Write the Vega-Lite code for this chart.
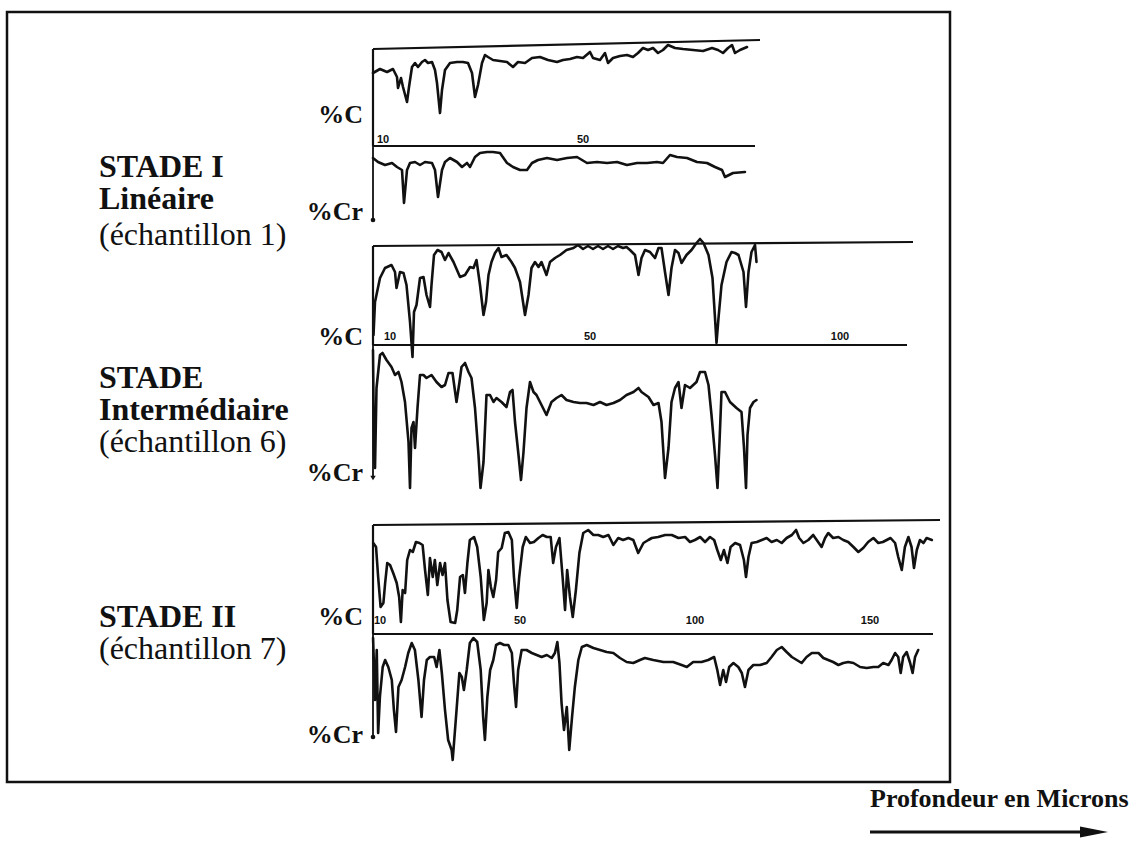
{
"$schema": "https://vega.github.io/schema/vega-lite/v6.json",
"width": 1135, "height": 845,
"autosize": {"type": "fit", "contains": "padding"},
"padding": 0,
"background": "#ffffff",
"config": {"view": {"stroke": null}},
"datasets": {
"s1c": [{"depth":8.0,"value":73},{"depth":9.4,"value":77},{"depth":10.8,"value":74},{"depth":12.0,"value":77},{"depth":12.8,"value":69},{"depth":13.0,"value":58},{"depth":13.6,"value":68},{"depth":14.0,"value":59},{"depth":14.8,"value":44},{"depth":15.2,"value":59},{"depth":15.8,"value":79},{"depth":16.4,"value":83},{"depth":17.0,"value":79},{"depth":17.8,"value":84},{"depth":18.4,"value":86},{"depth":19.0,"value":83},{"depth":19.8,"value":84},{"depth":20.4,"value":76},{"depth":20.8,"value":63},{"depth":21.4,"value":33},{"depth":21.8,"value":56},{"depth":22.4,"value":76},{"depth":23.4,"value":83},{"depth":24.8,"value":84},{"depth":26.0,"value":84},{"depth":27.0,"value":83},{"depth":27.8,"value":73},{"depth":28.4,"value":49},{"depth":29.0,"value":61},{"depth":29.8,"value":83},{"depth":30.4,"value":91},{"depth":31.0,"value":89},{"depth":32.0,"value":86},{"depth":33.4,"value":85},{"depth":34.8,"value":84},{"depth":36.0,"value":79},{"depth":37.0,"value":84},{"depth":38.4,"value":83},{"depth":39.8,"value":88},{"depth":41.4,"value":89},{"depth":43.0,"value":86},{"depth":44.8,"value":84},{"depth":46.0,"value":86},{"depth":47.4,"value":87},{"depth":48.8,"value":89},{"depth":50.0,"value":88},{"depth":51.4,"value":94},{"depth":52.0,"value":88},{"depth":53.4,"value":86},{"depth":54.4,"value":93},{"depth":55.0,"value":83},{"depth":56.0,"value":88},{"depth":57.4,"value":90},{"depth":58.8,"value":91},{"depth":60.0,"value":89},{"depth":61.0,"value":93},{"depth":62.0,"value":98},{"depth":63.0,"value":96},{"depth":64.0,"value":98},{"depth":65.0,"value":93},{"depth":66.0,"value":96},{"depth":67.0,"value":101},{"depth":68.4,"value":98},{"depth":70.0,"value":97},{"depth":72.0,"value":96},{"depth":74.0,"value":95},{"depth":75.8,"value":98},{"depth":77.0,"value":96},{"depth":78.0,"value":93},{"depth":79.0,"value":98},{"depth":79.8,"value":101},{"depth":80.4,"value":93},{"depth":81.4,"value":96},{"depth":82.8,"value":99}],
"s1cr": [{"depth":8.0,"value":62},{"depth":9.0,"value":58},{"depth":10.4,"value":55},{"depth":11.8,"value":57},{"depth":12.8,"value":53},{"depth":13.8,"value":50},{"depth":14.2,"value":17},{"depth":14.8,"value":50},{"depth":15.4,"value":57},{"depth":16.4,"value":58},{"depth":17.4,"value":55},{"depth":18.4,"value":58},{"depth":19.8,"value":57},{"depth":20.4,"value":50},{"depth":21.0,"value":23},{"depth":21.8,"value":50},{"depth":22.4,"value":58},{"depth":23.4,"value":62},{"depth":24.8,"value":58},{"depth":25.8,"value":53},{"depth":26.8,"value":57},{"depth":27.4,"value":53},{"depth":28.4,"value":63},{"depth":29.4,"value":67},{"depth":30.8,"value":68},{"depth":32.0,"value":68},{"depth":33.4,"value":67},{"depth":34.8,"value":57},{"depth":36.0,"value":53},{"depth":37.4,"value":50},{"depth":38.8,"value":50},{"depth":39.8,"value":57},{"depth":41.0,"value":60},{"depth":42.8,"value":62},{"depth":44.8,"value":60},{"depth":46.8,"value":62},{"depth":48.8,"value":63},{"depth":50.8,"value":57},{"depth":52.8,"value":58},{"depth":54.8,"value":57},{"depth":56.8,"value":58},{"depth":58.8,"value":55},{"depth":60.8,"value":57},{"depth":62.8,"value":57},{"depth":64.8,"value":58},{"depth":66.0,"value":57},{"depth":67.4,"value":65},{"depth":68.8,"value":63},{"depth":70.8,"value":62},{"depth":72.8,"value":58},{"depth":74.8,"value":57},{"depth":76.4,"value":53},{"depth":77.8,"value":50},{"depth":78.4,"value":43},{"depth":80.0,"value":47},{"depth":82.4,"value":48}],
"s2c": [{"depth":6.7,"value":10},{"depth":7.0,"value":43},{"depth":8.0,"value":67},{"depth":9.0,"value":77},{"depth":10.3,"value":80},{"depth":11.0,"value":73},{"depth":11.3,"value":57},{"depth":12.0,"value":73},{"depth":12.7,"value":72},{"depth":13.3,"value":60},{"depth":14.0,"value":23},{"depth":14.5,"value":-12},{"depth":14.8,"value":33},{"depth":15.3,"value":40},{"depth":16.0,"value":67},{"depth":16.7,"value":68},{"depth":17.3,"value":50},{"depth":18.0,"value":38},{"depth":18.3,"value":60},{"depth":18.8,"value":90},{"depth":19.5,"value":95},{"depth":20.3,"value":93},{"depth":21.0,"value":85},{"depth":21.7,"value":92},{"depth":22.7,"value":83},{"depth":24.0,"value":68},{"depth":25.0,"value":70},{"depth":26.0,"value":78},{"depth":26.7,"value":77},{"depth":27.3,"value":85},{"depth":28.0,"value":60},{"depth":28.7,"value":30},{"depth":29.2,"value":43},{"depth":29.7,"value":70},{"depth":30.3,"value":83},{"depth":31.0,"value":92},{"depth":31.7,"value":97},{"depth":32.3,"value":88},{"depth":33.3,"value":90},{"depth":34.3,"value":83},{"depth":35.0,"value":77},{"depth":36.0,"value":63},{"depth":37.0,"value":30},{"depth":37.7,"value":50},{"depth":38.3,"value":77},{"depth":39.0,"value":83},{"depth":39.7,"value":78},{"depth":40.3,"value":83},{"depth":41.3,"value":70},{"depth":42.0,"value":83},{"depth":43.0,"value":87},{"depth":44.0,"value":90},{"depth":45.3,"value":95},{"depth":46.7,"value":97},{"depth":47.6,"value":100},{"depth":48.6,"value":96},{"depth":49.6,"value":99},{"depth":50.6,"value":96},{"depth":51.6,"value":99},{"depth":52.6,"value":96},{"depth":53.6,"value":99},{"depth":54.6,"value":96},{"depth":55.6,"value":99},{"depth":56.6,"value":97},{"depth":57.3,"value":98},{"depth":58.0,"value":95},{"depth":59.0,"value":90},{"depth":59.7,"value":70},{"depth":60.3,"value":87},{"depth":61.0,"value":95},{"depth":62.0,"value":93},{"depth":63.0,"value":87},{"depth":63.7,"value":97},{"depth":64.3,"value":97},{"depth":65.0,"value":73},{"depth":65.7,"value":50},{"depth":66.3,"value":77},{"depth":67.0,"value":95},{"depth":67.7,"value":92},{"depth":68.3,"value":82},{"depth":69.3,"value":90},{"depth":70.3,"value":95},{"depth":71.3,"value":102},{"depth":72.0,"value":106},{"depth":72.7,"value":102},{"depth":73.7,"value":90},{"depth":74.5,"value":67},{"depth":75.0,"value":27},{"depth":75.3,"value":2},{"depth":75.7,"value":27},{"depth":76.3,"value":60},{"depth":77.3,"value":83},{"depth":78.3,"value":93},{"depth":79.0,"value":92},{"depth":79.7,"value":90},{"depth":80.7,"value":73},{"depth":81.2,"value":38},{"depth":81.7,"value":73},{"depth":82.3,"value":93},{"depth":83.0,"value":100},{"depth":83.3,"value":83}],
"s2cr": [{"depth":6.6,"value":130},{"depth":6.8,"value":25},{"depth":7.0,"value":12},{"depth":7.3,"value":92},{"depth":8.0,"value":125},{"depth":8.5,"value":127},{"depth":9.3,"value":120},{"depth":10.3,"value":113},{"depth":11.0,"value":105},{"depth":11.7,"value":108},{"depth":12.3,"value":98},{"depth":13.0,"value":78},{"depth":13.7,"value":38},{"depth":14.0,"value":-8},{"depth":14.3,"value":52},{"depth":14.7,"value":58},{"depth":15.0,"value":32},{"depth":15.5,"value":72},{"depth":16.0,"value":105},{"depth":16.7,"value":105},{"depth":17.3,"value":102},{"depth":18.3,"value":105},{"depth":19.3,"value":98},{"depth":20.3,"value":93},{"depth":21.0,"value":95},{"depth":21.7,"value":107},{"depth":22.5,"value":107},{"depth":23.3,"value":78},{"depth":23.9,"value":98},{"depth":24.3,"value":113},{"depth":25.0,"value":117},{"depth":25.7,"value":108},{"depth":26.3,"value":102},{"depth":27.0,"value":72},{"depth":27.7,"value":25},{"depth":28.1,"value":-8},{"depth":28.7,"value":18},{"depth":29.3,"value":85},{"depth":30.0,"value":85},{"depth":30.7,"value":78},{"depth":31.3,"value":82},{"depth":32.3,"value":78},{"depth":33.3,"value":73},{"depth":34.0,"value":88},{"depth":34.5,"value":90},{"depth":35.0,"value":58},{"depth":35.7,"value":25},{"depth":36.2,"value":0},{"depth":36.7,"value":28},{"depth":37.3,"value":72},{"depth":38.0,"value":98},{"depth":38.7,"value":88},{"depth":39.3,"value":85},{"depth":40.3,"value":75},{"depth":41.3,"value":65},{"depth":42.3,"value":78},{"depth":43.3,"value":82},{"depth":44.3,"value":85},{"depth":45.3,"value":80},{"depth":46.7,"value":78},{"depth":48.0,"value":77},{"depth":49.3,"value":77},{"depth":50.7,"value":75},{"depth":52.0,"value":78},{"depth":53.3,"value":75},{"depth":54.7,"value":77},{"depth":56.0,"value":80},{"depth":57.3,"value":85},{"depth":58.7,"value":88},{"depth":59.7,"value":92},{"depth":60.3,"value":88},{"depth":61.7,"value":83},{"depth":62.7,"value":75},{"depth":63.7,"value":77},{"depth":64.3,"value":58},{"depth":65.0,"value":2},{"depth":65.7,"value":32},{"depth":66.3,"value":78},{"depth":67.0,"value":92},{"depth":67.7,"value":98},{"depth":68.3,"value":72},{"depth":69.0,"value":95},{"depth":70.0,"value":92},{"depth":71.3,"value":98},{"depth":72.0,"value":108},{"depth":73.0,"value":108},{"depth":73.7,"value":95},{"depth":74.3,"value":65},{"depth":75.0,"value":25},{"depth":75.5,"value":-8},{"depth":75.9,"value":38},{"depth":76.3,"value":88},{"depth":77.0,"value":88},{"depth":78.0,"value":78},{"depth":79.3,"value":72},{"depth":80.3,"value":68},{"depth":80.8,"value":32},{"depth":81.2,"value":-8},{"depth":81.5,"value":45},{"depth":82.0,"value":72},{"depth":82.7,"value":78},{"depth":83.3,"value":80}],
"s3c": [{"depth":9.5,"value":91},{"depth":10.3,"value":87},{"depth":10.9,"value":57},{"depth":11.6,"value":27},{"depth":12.4,"value":31},{"depth":12.9,"value":51},{"depth":13.5,"value":71},{"depth":14.3,"value":69},{"depth":15.2,"value":61},{"depth":16.2,"value":51},{"depth":16.9,"value":37},{"depth":17.4,"value":12},{"depth":17.9,"value":44},{"depth":18.6,"value":41},{"depth":19.2,"value":74},{"depth":20.0,"value":84},{"depth":20.8,"value":82},{"depth":21.7,"value":92},{"depth":22.7,"value":91},{"depth":23.6,"value":89},{"depth":24.3,"value":64},{"depth":25.1,"value":39},{"depth":25.7,"value":76},{"depth":26.5,"value":57},{"depth":27.1,"value":74},{"depth":27.8,"value":49},{"depth":28.6,"value":71},{"depth":29.3,"value":59},{"depth":30.0,"value":71},{"depth":30.7,"value":34},{"depth":31.6,"value":12},{"depth":32.9,"value":11},{"depth":33.5,"value":24},{"depth":34.3,"value":57},{"depth":35.1,"value":59},{"depth":35.7,"value":41},{"depth":36.4,"value":71},{"depth":37.1,"value":94},{"depth":38.3,"value":97},{"depth":39.2,"value":87},{"depth":40.2,"value":57},{"depth":41.1,"value":14},{"depth":41.9,"value":31},{"depth":42.4,"value":64},{"depth":43.1,"value":47},{"depth":43.8,"value":37},{"depth":44.6,"value":54},{"depth":45.2,"value":82},{"depth":46.2,"value":86},{"depth":47.1,"value":101},{"depth":48.1,"value":102},{"depth":49.1,"value":94},{"depth":49.7,"value":57},{"depth":50.5,"value":26},{"depth":51.2,"value":57},{"depth":52.2,"value":87},{"depth":53.1,"value":97},{"depth":54.3,"value":91},{"depth":55.4,"value":92},{"depth":56.7,"value":96},{"depth":57.9,"value":99},{"depth":59.1,"value":97},{"depth":60.2,"value":97},{"depth":60.9,"value":71},{"depth":61.7,"value":87},{"depth":62.7,"value":96},{"depth":63.6,"value":57},{"depth":64.3,"value":24},{"depth":64.9,"value":64},{"depth":65.7,"value":37},{"depth":66.5,"value":17},{"depth":67.4,"value":44},{"depth":68.4,"value":81},{"depth":69.5,"value":101},{"depth":70.9,"value":104},{"depth":72.4,"value":99},{"depth":73.8,"value":99},{"depth":75.2,"value":97},{"depth":76.7,"value":99},{"depth":78.1,"value":89},{"depth":79.5,"value":96},{"depth":80.9,"value":94},{"depth":82.4,"value":96},{"depth":83.8,"value":94},{"depth":85.2,"value":81},{"depth":86.7,"value":91},{"depth":88.1,"value":94},{"depth":89.1,"value":96},{"depth":90.9,"value":97},{"depth":92.9,"value":99},{"depth":94.8,"value":99},{"depth":96.7,"value":96},{"depth":98.6,"value":97},{"depth":100.0,"value":92},{"depth":101.4,"value":94},{"depth":102.9,"value":97},{"depth":104.3,"value":92},{"depth":105.7,"value":97},{"depth":106.9,"value":94},{"depth":107.8,"value":84},{"depth":108.8,"value":74},{"depth":109.7,"value":84},{"depth":110.7,"value":71},{"depth":111.6,"value":87},{"depth":112.9,"value":91},{"depth":114.3,"value":89},{"depth":115.4,"value":74},{"depth":116.0,"value":57},{"depth":116.7,"value":77},{"depth":117.6,"value":91},{"depth":119.1,"value":92},{"depth":120.5,"value":94},{"depth":121.9,"value":96},{"depth":123.3,"value":92},{"depth":124.8,"value":94},{"depth":126.2,"value":91},{"depth":127.6,"value":96},{"depth":129.1,"value":99},{"depth":130.3,"value":104},{"depth":131.2,"value":96},{"depth":132.4,"value":91},{"depth":133.8,"value":94},{"depth":135.2,"value":99},{"depth":136.2,"value":94},{"depth":137.6,"value":87},{"depth":138.6,"value":96},{"depth":139.5,"value":101},{"depth":140.9,"value":96},{"depth":142.4,"value":97},{"depth":143.8,"value":94},{"depth":145.2,"value":92},{"depth":146.7,"value":87},{"depth":148.1,"value":82},{"depth":149.5,"value":86},{"depth":150.9,"value":92},{"depth":152.4,"value":96},{"depth":153.8,"value":91},{"depth":155.1,"value":92},{"depth":156.2,"value":94},{"depth":157.3,"value":96},{"depth":158.6,"value":91},{"depth":159.5,"value":77},{"depth":160.5,"value":64},{"depth":161.4,"value":87},{"depth":162.4,"value":97},{"depth":163.3,"value":87},{"depth":164.0,"value":66},{"depth":164.8,"value":84},{"depth":165.7,"value":94},{"depth":166.7,"value":91},{"depth":167.6,"value":96},{"depth":169.1,"value":94}],
"s3cr": [{"depth":9.45,"value":100},{"depth":10.0,"value":38},{"depth":10.5,"value":88},{"depth":10.9,"value":5},{"depth":11.4,"value":41},{"depth":12.2,"value":71},{"depth":12.9,"value":78},{"depth":13.8,"value":71},{"depth":14.8,"value":58},{"depth":15.4,"value":28},{"depth":16.0,"value":6},{"depth":16.7,"value":51},{"depth":17.6,"value":58},{"depth":18.6,"value":71},{"depth":19.5,"value":85},{"depth":20.5,"value":95},{"depth":21.4,"value":88},{"depth":22.4,"value":58},{"depth":23.3,"value":21},{"depth":24.0,"value":58},{"depth":24.8,"value":78},{"depth":25.7,"value":81},{"depth":26.9,"value":81},{"depth":27.6,"value":71},{"depth":28.4,"value":88},{"depth":29.1,"value":65},{"depth":30.0,"value":28},{"depth":30.9,"value":-2},{"depth":31.9,"value":-12},{"depth":32.2,"value":-22},{"depth":33.3,"value":28},{"depth":34.1,"value":65},{"depth":34.8,"value":61},{"depth":35.4,"value":48},{"depth":36.2,"value":68},{"depth":37.1,"value":95},{"depth":38.1,"value":100},{"depth":39.2,"value":96},{"depth":40.2,"value":68},{"depth":40.9,"value":21},{"depth":41.4,"value":-2},{"depth":42.1,"value":41},{"depth":42.9,"value":68},{"depth":43.8,"value":78},{"depth":44.6,"value":93},{"depth":45.7,"value":95},{"depth":46.9,"value":93},{"depth":48.1,"value":93},{"depth":49.1,"value":85},{"depth":49.7,"value":55},{"depth":50.3,"value":31},{"depth":50.9,"value":68},{"depth":51.9,"value":88},{"depth":53.3,"value":88},{"depth":54.8,"value":85},{"depth":56.2,"value":83},{"depth":57.6,"value":81},{"depth":59.1,"value":83},{"depth":60.5,"value":80},{"depth":61.4,"value":85},{"depth":62.1,"value":96},{"depth":62.7,"value":75},{"depth":63.3,"value":35},{"depth":64.0,"value":8},{"depth":64.8,"value":31},{"depth":65.5,"value":-12},{"depth":66.3,"value":21},{"depth":67.1,"value":51},{"depth":68.1,"value":78},{"depth":69.1,"value":91},{"depth":70.5,"value":93},{"depth":72.4,"value":90},{"depth":74.3,"value":88},{"depth":76.2,"value":86},{"depth":78.1,"value":85},{"depth":80.0,"value":80},{"depth":81.9,"value":76},{"depth":83.8,"value":75},{"depth":85.7,"value":78},{"depth":87.1,"value":80},{"depth":89.5,"value":78},{"depth":92.4,"value":76},{"depth":95.2,"value":76},{"depth":97.6,"value":73},{"depth":99.1,"value":71},{"depth":100.9,"value":76},{"depth":103.3,"value":76},{"depth":105.2,"value":78},{"depth":106.9,"value":81},{"depth":107.8,"value":68},{"depth":108.6,"value":53},{"depth":109.5,"value":68},{"depth":110.3,"value":56},{"depth":111.2,"value":71},{"depth":112.4,"value":75},{"depth":113.8,"value":71},{"depth":114.8,"value":65},{"depth":115.7,"value":51},{"depth":116.7,"value":68},{"depth":118.1,"value":73},{"depth":120.0,"value":73},{"depth":121.9,"value":75},{"depth":123.3,"value":81},{"depth":124.8,"value":88},{"depth":126.2,"value":91},{"depth":127.6,"value":86},{"depth":129.1,"value":81},{"depth":130.5,"value":78},{"depth":131.9,"value":75},{"depth":133.3,"value":81},{"depth":134.8,"value":85},{"depth":136.7,"value":85},{"depth":138.1,"value":80},{"depth":139.5,"value":78},{"depth":140.9,"value":76},{"depth":142.4,"value":73},{"depth":143.8,"value":75},{"depth":145.2,"value":76},{"depth":146.7,"value":75},{"depth":148.6,"value":71},{"depth":150.5,"value":70},{"depth":152.4,"value":71},{"depth":153.8,"value":71},{"depth":155.2,"value":75},{"depth":156.7,"value":73},{"depth":157.6,"value":78},{"depth":158.6,"value":85},{"depth":159.5,"value":81},{"depth":160.2,"value":65},{"depth":160.9,"value":81},{"depth":161.9,"value":86},{"depth":162.9,"value":75},{"depth":163.6,"value":65},{"depth":164.3,"value":81},{"depth":165.2,"value":88}]
},
"resolve": {"scale": {"x": "independent", "y": "independent"}},
"layer": [
 {
  "layer": [
   {"data": {"values": [{"fx": 7, "fx2": 950, "fy": 12, "fy2": 782}]},
    "mark": {"type": "rect", "filled": false, "stroke": "#111111", "strokeWidth": 2.5},
    "encoding": {"x": {"field": "fx", "type": "quantitative", "scale": {"domain": [0, 1135], "nice": false, "zero": false}, "axis": null}, "x2": {"field": "fx2"},
                 "y": {"field": "fy", "type": "quantitative", "scale": {"domain": [0, 845], "reverse": true, "nice": false, "zero": false}, "axis": null}, "y2": {"field": "fy2"}}},
   {"data": {"values": [{"label": "STADE I", "fx": 99, "fy": 177}, {"label": "Linéaire", "fx": 99, "fy": 209}, {"label": "STADE", "fx": 99, "fy": 388}, {"label": "Intermédiaire", "fx": 99, "fy": 420}, {"label": "STADE II", "fx": 99, "fy": 627}]},
    "mark": {"type": "text", "font": "Liberation Serif", "fontSize": 32, "fontWeight": "bold", "align": "left", "baseline": "alphabetic", "color": "#111111"},
    "encoding": {"x": {"field": "fx", "type": "quantitative", "scale": {"domain": [0, 1135], "nice": false, "zero": false}, "axis": null},
                 "y": {"field": "fy", "type": "quantitative", "scale": {"domain": [0, 845], "reverse": true, "nice": false, "zero": false}, "axis": null},
                 "text": {"field": "label"}}},
   {"data": {"values": [{"label": "(échantillon 1)", "fx": 99, "fy": 245}, {"label": "(échantillon 6)", "fx": 99, "fy": 452}, {"label": "(échantillon 7)", "fx": 99, "fy": 659}]},
    "mark": {"type": "text", "font": "Liberation Serif", "fontSize": 32, "fontWeight": "normal", "align": "left", "baseline": "alphabetic", "color": "#111111"},
    "encoding": {"x": {"field": "fx", "type": "quantitative", "scale": {"domain": [0, 1135], "nice": false, "zero": false}, "axis": null},
                 "y": {"field": "fy", "type": "quantitative", "scale": {"domain": [0, 845], "reverse": true, "nice": false, "zero": false}, "axis": null},
                 "text": {"field": "label"}}},
   {"data": {"values": [{"label": "%C", "fx": 363, "fy": 123}, {"label": "%Cr", "fx": 363, "fy": 220}, {"label": "%C", "fx": 363, "fy": 345}, {"label": "%Cr", "fx": 363, "fy": 481}, {"label": "%C", "fx": 363, "fy": 625}, {"label": "%Cr", "fx": 363, "fy": 743}]},
    "mark": {"type": "text", "font": "Liberation Serif", "fontSize": 26, "fontWeight": "bold", "align": "right", "baseline": "alphabetic", "color": "#111111"},
    "encoding": {"x": {"field": "fx", "type": "quantitative", "scale": {"domain": [0, 1135], "nice": false, "zero": false}, "axis": null},
                 "y": {"field": "fy", "type": "quantitative", "scale": {"domain": [0, 845], "reverse": true, "nice": false, "zero": false}, "axis": null},
                 "text": {"field": "label"}}},
   {"data": {"values": [{"label": "Profondeur en Microns", "fx": 870, "fy": 807}]},
    "mark": {"type": "text", "font": "Liberation Serif", "fontSize": 26, "fontWeight": "bold", "align": "left", "baseline": "alphabetic", "color": "#111111"},
    "encoding": {"x": {"field": "fx", "type": "quantitative", "scale": {"domain": [0, 1135], "nice": false, "zero": false}, "axis": null},
                 "y": {"field": "fy", "type": "quantitative", "scale": {"domain": [0, 845], "reverse": true, "nice": false, "zero": false}, "axis": null},
                 "text": {"field": "label"}}},
   {"data": {"values": [{"fx": 870, "fx2": 1082, "fy": 832}]},
    "mark": {"type": "rule", "stroke": "#111111", "strokeWidth": 3},
    "encoding": {"x": {"field": "fx", "type": "quantitative", "scale": {"domain": [0, 1135], "nice": false, "zero": false}, "axis": null}, "x2": {"field": "fx2"},
                 "y": {"field": "fy", "type": "quantitative", "scale": {"domain": [0, 845], "reverse": true, "nice": false, "zero": false}, "axis": null}}},
   {"data": {"values": [{"fx": 1094, "fy": 832}]},
    "mark": {"type": "point", "shape": "M -1 -0.4 L 1 0 L -1 0.4 Z", "size": 784, "filled": true, "color": "#111111", "opacity": 1, "strokeWidth": 0},
    "encoding": {"x": {"field": "fx", "type": "quantitative", "scale": {"domain": [0, 1135], "nice": false, "zero": false}, "axis": null},
                 "y": {"field": "fy", "type": "quantitative", "scale": {"domain": [0, 845], "reverse": true, "nice": false, "zero": false}, "axis": null}}}
  ]
 },
 {
  "resolve": {"scale": {"y": "independent"}},
  "layer": [
   {"layer": [
     {"data": {"values": [{"d1": 8, "d2": 85.4, "v1": 97, "v2": 106}, {"d1": 8, "d2": 84.4, "v1": 0, "v2": 0}, {"d1": 8, "d2": 8, "v1": 0, "v2": 97}]},
      "mark": {"type": "rule", "stroke": "#111111", "strokeWidth": 2.2},
      "encoding": {"x": {"field": "d1", "type": "quantitative", "scale": {"domain": [-66.6, 160.4], "nice": false, "zero": false}, "axis": null}, "x2": {"field": "d2"},
                   "y": {"field": "v1", "type": "quantitative", "scale": {"domain": [-699, 146], "nice": false, "zero": false}, "axis": null}, "y2": {"field": "v2"}}},
     {"data": {"name": "s1c"},
      "mark": {"type": "line", "stroke": "#111111", "strokeWidth": 2.6, "strokeJoin": "round", "strokeCap": "round"},
      "encoding": {"x": {"field": "depth", "type": "quantitative", "scale": {"domain": [-66.6, 160.4], "nice": false, "zero": false}, "axis": null},
                   "y": {"field": "value", "type": "quantitative", "scale": {"domain": [-699, 146], "nice": false, "zero": false}, "axis": null}}},
     {"data": {"values": [{"depth": 10, "label": "10"}, {"depth": 50, "label": "50"}]},
      "mark": {"type": "text", "font": "Liberation Sans", "fontSize": 11, "fontWeight": "bold", "align": "center", "baseline": "alphabetic", "color": "#111111"},
      "encoding": {"x": {"field": "depth", "type": "quantitative", "scale": {"domain": [-66.6, 160.4], "nice": false, "zero": false}, "axis": null},
                   "y": {"datum": 3, "type": "quantitative", "scale": {"domain": [-699, 146], "nice": false, "zero": false}, "axis": null},
                   "text": {"field": "label"}}}
   ]},
   {"layer": [
     {"data": {"values": [{"d1": 8, "d2": 8, "v1": 74, "v2": 0}]},
      "mark": {"type": "rule", "stroke": "#111111", "strokeWidth": 1.8},
      "encoding": {"x": {"field": "d1", "type": "quantitative", "scale": {"domain": [-66.6, 160.4], "nice": false, "zero": false}, "axis": null}, "x2": {"field": "d2"},
                   "y": {"field": "v1", "type": "quantitative", "scale": {"domain": [-625, 220], "nice": false, "zero": false}, "axis": null}, "y2": {"field": "v2"}}},
     {"data": {"values": [{"depth": 8, "value": 0}]},
      "mark": {"type": "point", "shape": "circle", "size": 22, "filled": true, "color": "#111111", "opacity": 1},
      "encoding": {"x": {"field": "depth", "type": "quantitative", "scale": {"domain": [-66.6, 160.4], "nice": false, "zero": false}, "axis": null},
                   "y": {"field": "value", "type": "quantitative", "scale": {"domain": [-625, 220], "nice": false, "zero": false}, "axis": null}}},
     {"data": {"name": "s1cr"},
      "mark": {"type": "line", "stroke": "#111111", "strokeWidth": 2.6, "strokeJoin": "round", "strokeCap": "round"},
      "encoding": {"x": {"field": "depth", "type": "quantitative", "scale": {"domain": [-66.6, 160.4], "nice": false, "zero": false}, "axis": null},
                   "y": {"field": "value", "type": "quantitative", "scale": {"domain": [-625, 220], "nice": false, "zero": false}, "axis": null}}}
   ]}
  ]
 },
 {
  "resolve": {"scale": {"y": "independent"}},
  "layer": [
   {"layer": [
     {"data": {"values": [{"d1": 6.6, "d2": 114.6, "v1": 99, "v2": 103}, {"d1": 6.6, "d2": 113.4, "v1": 0, "v2": 0}, {"d1": 6.6, "d2": 6.6, "v1": 0, "v2": 99}]},
      "mark": {"type": "rule", "stroke": "#111111", "strokeWidth": 2.2},
      "encoding": {"x": {"field": "d1", "type": "quantitative", "scale": {"domain": [-68, 159], "nice": false, "zero": false}, "axis": null}, "x2": {"field": "d2"},
                   "y": {"field": "v1", "type": "quantitative", "scale": {"domain": [-500, 345], "nice": false, "zero": false}, "axis": null}, "y2": {"field": "v2"}}},
     {"data": {"name": "s2c"},
      "mark": {"type": "line", "stroke": "#111111", "strokeWidth": 2.6, "strokeJoin": "round", "strokeCap": "round"},
      "encoding": {"x": {"field": "depth", "type": "quantitative", "scale": {"domain": [-68, 159], "nice": false, "zero": false}, "axis": null},
                   "y": {"field": "value", "type": "quantitative", "scale": {"domain": [-500, 345], "nice": false, "zero": false}, "axis": null}}},
     {"data": {"values": [{"depth": 10, "label": "10"}, {"depth": 50, "label": "50"}, {"depth": 100, "label": "100"}]},
      "mark": {"type": "text", "font": "Liberation Sans", "fontSize": 11, "fontWeight": "bold", "align": "center", "baseline": "alphabetic", "color": "#111111"},
      "encoding": {"x": {"field": "depth", "type": "quantitative", "scale": {"domain": [-68, 159], "nice": false, "zero": false}, "axis": null},
                   "y": {"datum": 5, "type": "quantitative", "scale": {"domain": [-500, 345], "nice": false, "zero": false}, "axis": null},
                   "text": {"field": "label"}}}
   ]},
   {"layer": [
     {"data": {"values": [{"d1": 6.6, "d2": 6.6, "v1": 135, "v2": 3}]},
      "mark": {"type": "rule", "stroke": "#111111", "strokeWidth": 1.8},
      "encoding": {"x": {"field": "d1", "type": "quantitative", "scale": {"domain": [-68, 159], "nice": false, "zero": false}, "axis": null}, "x2": {"field": "d2"},
                   "y": {"field": "v1", "type": "quantitative", "scale": {"domain": [-365, 480], "nice": false, "zero": false}, "axis": null}, "y2": {"field": "v2"}}},
     {"data": {"values": [{"depth": 6.6, "value": 2}]},
      "mark": {"type": "point", "shape": "triangle-down", "size": 30, "filled": true, "color": "#111111", "opacity": 1},
      "encoding": {"x": {"field": "depth", "type": "quantitative", "scale": {"domain": [-68, 159], "nice": false, "zero": false}, "axis": null},
                   "y": {"field": "value", "type": "quantitative", "scale": {"domain": [-365, 480], "nice": false, "zero": false}, "axis": null}}},
     {"data": {"name": "s2cr"},
      "mark": {"type": "line", "stroke": "#111111", "strokeWidth": 2.6, "strokeJoin": "round", "strokeCap": "round"},
      "encoding": {"x": {"field": "depth", "type": "quantitative", "scale": {"domain": [-68, 159], "nice": false, "zero": false}, "axis": null},
                   "y": {"field": "value", "type": "quantitative", "scale": {"domain": [-365, 480], "nice": false, "zero": false}, "axis": null}}}
   ]}
  ]
 },
 {
  "resolve": {"scale": {"y": "independent"}},
  "layer": [
   {"layer": [
     {"data": {"values": [{"d1": 9.43, "d2": 171.43, "v1": 109, "v2": 114}, {"d1": 9.43, "d2": 169.43, "v1": 0, "v2": 0}, {"d1": 9.43, "d2": 9.43, "v1": 0, "v2": 109}]},
      "mark": {"type": "rule", "stroke": "#111111", "strokeWidth": 2.2},
      "encoding": {"x": {"field": "d1", "type": "quantitative", "scale": {"domain": [-97.142857, 227.142857], "nice": false, "zero": false}, "axis": null}, "x2": {"field": "d2"},
                   "y": {"field": "v1", "type": "quantitative", "scale": {"domain": [-211, 634], "nice": false, "zero": false}, "axis": null}, "y2": {"field": "v2"}}},
     {"data": {"name": "s3c"},
      "mark": {"type": "line", "stroke": "#111111", "strokeWidth": 2.6, "strokeJoin": "round", "strokeCap": "round"},
      "encoding": {"x": {"field": "depth", "type": "quantitative", "scale": {"domain": [-97.142857, 227.142857], "nice": false, "zero": false}, "axis": null},
                   "y": {"field": "value", "type": "quantitative", "scale": {"domain": [-211, 634], "nice": false, "zero": false}, "axis": null}}},
     {"data": {"values": [{"depth": 10, "label": "10"}, {"depth": 50, "label": "50"}, {"depth": 100, "label": "100"}, {"depth": 150, "label": "150"}]},
      "mark": {"type": "text", "font": "Liberation Sans", "fontSize": 11, "fontWeight": "bold", "align": "center", "baseline": "alphabetic", "dx": 5, "color": "#111111"},
      "encoding": {"x": {"field": "depth", "type": "quantitative", "scale": {"domain": [-97.142857, 227.142857], "nice": false, "zero": false}, "axis": null},
                   "y": {"datum": 10, "type": "quantitative", "scale": {"domain": [-211, 634], "nice": false, "zero": false}, "axis": null},
                   "text": {"field": "label"}}}
   ]},
   {"layer": [
     {"data": {"values": [{"d1": 9.43, "d2": 9.43, "v1": 104, "v2": 1}]},
      "mark": {"type": "rule", "stroke": "#111111", "strokeWidth": 1.8},
      "encoding": {"x": {"field": "d1", "type": "quantitative", "scale": {"domain": [-97.142857, 227.142857], "nice": false, "zero": false}, "axis": null}, "x2": {"field": "d2"},
                   "y": {"field": "v1", "type": "quantitative", "scale": {"domain": [-107, 738], "nice": false, "zero": false}, "axis": null}, "y2": {"field": "v2"}}},
     {"data": {"values": [{"depth": 9.43, "value": 1}]},
      "mark": {"type": "point", "shape": "circle", "size": 22, "filled": true, "color": "#111111", "opacity": 1},
      "encoding": {"x": {"field": "depth", "type": "quantitative", "scale": {"domain": [-97.142857, 227.142857], "nice": false, "zero": false}, "axis": null},
                   "y": {"field": "value", "type": "quantitative", "scale": {"domain": [-107, 738], "nice": false, "zero": false}, "axis": null}}},
     {"data": {"name": "s3cr"},
      "mark": {"type": "line", "stroke": "#111111", "strokeWidth": 2.6, "strokeJoin": "round", "strokeCap": "round"},
      "encoding": {"x": {"field": "depth", "type": "quantitative", "scale": {"domain": [-97.142857, 227.142857], "nice": false, "zero": false}, "axis": null},
                   "y": {"field": "value", "type": "quantitative", "scale": {"domain": [-107, 738], "nice": false, "zero": false}, "axis": null}}}
   ]}
  ]
 }
]
}
